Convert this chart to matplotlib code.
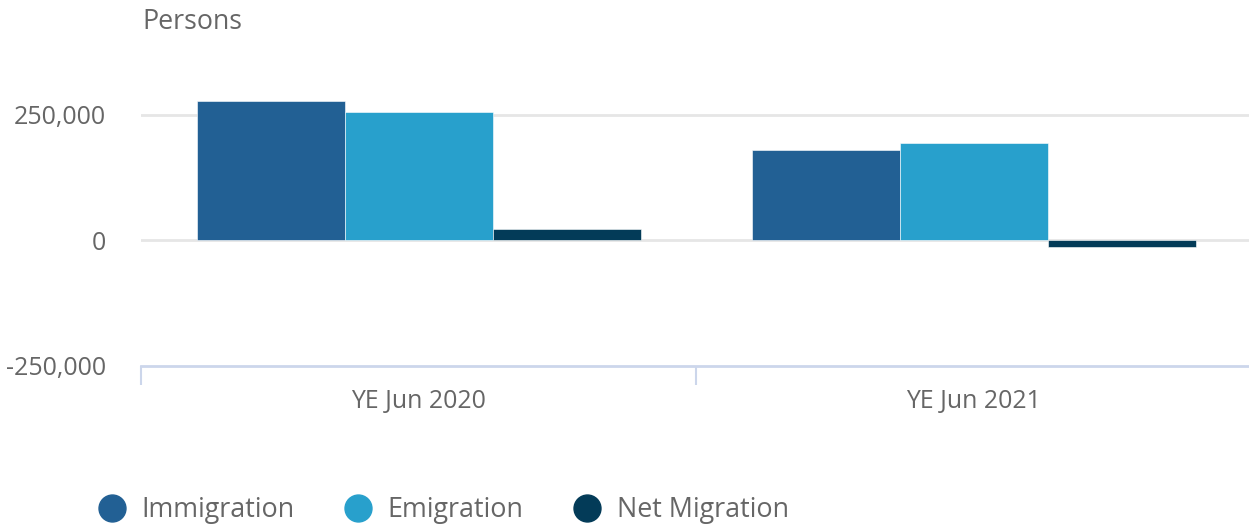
import matplotlib
matplotlib.use("Agg")
import matplotlib.pyplot as plt
from matplotlib.lines import Line2D
from matplotlib.ticker import FuncFormatter
import numpy as np

plt.rcParams['font.family'] = ['Open Sans', 'DejaVu Sans']

# data
categories = ["YE Jun 2020", "YE Jun 2021"]
series_names = ["Immigration", "Emigration", "Net Migration"]
immigration = [278000, 180000]
emigration = [255000, 193500]
net_migration = [23000, -13500]
y_ticks = [-250000, 0, 250000]

colors = ["#226094", "#28a0cc", "#033b58"]
text_col = "#666666"
grid_col = "#e6e6e6"
axis_col = "#ccd6eb"

fig = plt.figure(figsize=(12.49, 5.29), dpi=100)
ax = fig.add_axes([141 / 1249, 163.3 / 529, 1110 / 1249, 275.9 / 529])

x = np.arange(len(categories))
bar_w = 0.8 / 3
for i, (vals, col) in enumerate(zip([immigration, emigration, net_migration], colors)):
    ax.bar(x + (i - 1) * bar_w, vals, width=bar_w, color=col,
           edgecolor="white", linewidth=0.4, zorder=3)

ax.set_xlim(-0.5, 1.5)
ax.set_ylim(-250000, 300000)

# gridlines
ax.set_yticks(y_ticks)
ax.yaxis.set_major_formatter(FuncFormatter(lambda v, p: f"{int(v):,}"))
for v in y_ticks[1:]:
    ax.axhline(v, color=grid_col, lw=2, zorder=1)

for s in ["top", "right", "left"]:
    ax.spines[s].set_visible(False)
ax.spines["bottom"].set_color(axis_col)
ax.spines["bottom"].set_linewidth(2)

ax.tick_params(axis="y", length=0, pad=25, labelsize=18, labelcolor=text_col)
ax.set_xticks(x)
ax.set_xticklabels(categories)
ax.set_xticks([-0.5, 0.5, 1.5], minor=True)
ax.tick_params(axis="x", which="major", length=0, pad=17, labelsize=17.9, labelcolor=text_col)
ax.tick_params(axis="x", which="minor", length=14, width=1.5, color=axis_col)

fig.text(142 / 1249, 1 - 22 / 529, "Persons", fontsize=19.3, color=text_col,
         ha="left", va="center")

handles = [Line2D([], [], marker="o", linestyle="none", markersize=19.4,
                  markerfacecolor=c, markeredgecolor=c) for c in colors]
fig.legend(handles, series_names, ncol=3, loc="center left",
           bbox_to_anchor=(98.5 / 1249, 1 - 510 / 529), frameon=False,
           fontsize=19.4, labelcolor=text_col, handlelength=1.0,
           handletextpad=0.6, columnspacing=1.85, borderaxespad=0,
           borderpad=0)

fig.savefig("out.png", dpi=100)
